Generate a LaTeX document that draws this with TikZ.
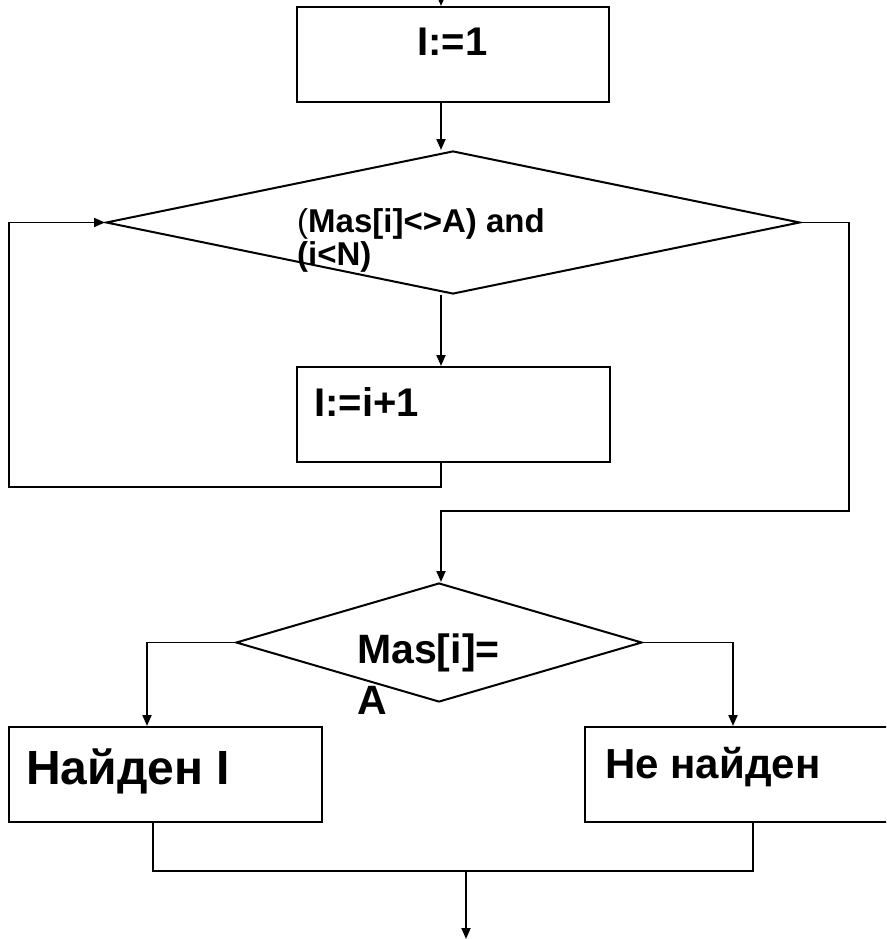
\documentclass[tikz,border=0pt]{standalone}
\usepackage{fontspec}
\setmainfont{Liberation Sans}
\usetikzlibrary{arrows.meta,shapes.geometric}
\newcommand\txtsize[1]{\fontsize{#1}{#1}\selectfont}
\begin{document}
\begin{tikzpicture}[x=1pt,y=-1pt,
  line/.style={line width=1.9pt, line join=miter},
  arr/.style={line, -{Triangle[length=11pt,width=9pt]}},
  block/.style={draw, line width=2pt, rectangle, inner sep=0pt,
                minimum width=312pt, minimum height=95pt},
  decision/.style={draw, line width=2pt, diamond, inner sep=0pt},
  lbl/.style={anchor=base west, inner sep=0pt}
]
\useasboundingbox (0,0) rectangle (886,939);
\clip (0,0) rectangle (886,939);

% blocks
\node[block] (b1) at (453,54.5) {};
\node[decision, minimum width=694pt, minimum height=143pt] (d1) at (453,222.5) {};
\node[block, minimum width=313pt] (b2) at (453.5,414.5) {};
\node[decision, minimum width=406pt, minimum height=119pt] (d2) at (439,642.5) {};
\node[block, minimum width=313pt] (b3) at (165.5,774.5) {};
\node[block, minimum width=313pt] (b4) at (741.5,774.5) {};

% routing points
\coordinate (spine) at (441,0);
\coordinate (entry) at (441,-20);
\coordinate (loopL) at (9,487);
\coordinate (exitR) at (849,511);
\coordinate (yesX) at (147,0);
\coordinate (noX) at (733,0);
\coordinate (joinL) at (153,871);
\coordinate (joinR) at (753,871);
\coordinate (outX) at (466,871);
\coordinate (outEnd) at (466,939);

% connectors
\draw[arr] (entry) -- (b1.north -| entry);
\draw[arr] (b1.south -| spine) -- (d1.north -| spine);
\draw[arr] (d1.south -| spine) -- (b2.north -| spine);
\draw[arr] (b2.south -| spine) |- (loopL) |- (d1.west);
\draw[arr] (d1.east) -| (exitR) -| (d2.north -| spine);
\draw[arr] (d2.west) -| (b3.north -| yesX);
\draw[arr] (d2.east) -| (b4.north -| noX);
\draw[line] (b3.south -| joinL) -- (joinL) -- (joinR) -- (b4.south -| joinR);
\draw[arr] (outX) -- (outEnd);

% texts
\node[lbl, font=\txtsize{40}\bfseries] (t1) at (417,56) {I:=1};
\node[lbl, font=\txtsize{33}] (t2a) at (297,232) {(\textbf{Mas[i]<>A) and}};
\node[lbl, font=\txtsize{33}\bfseries] (t2b) at (297,265) {(i<N)};
\node[lbl, font=\txtsize{40}\bfseries] (t3) at (314,416) {I:=i+1};
\node[lbl, font=\txtsize{41}\bfseries] (t4a) at (357,663) {Mas[i]=};
\node[lbl, font=\txtsize{41}\bfseries] (t4b) at (357,714) {A};
\node[lbl, font=\txtsize{48}\bfseries] (t5) at (26,784) {Найден I};
\node[lbl, font=\txtsize{42}\bfseries] (t6) at (605,778) {Не найден};
\end{tikzpicture}
\end{document}
